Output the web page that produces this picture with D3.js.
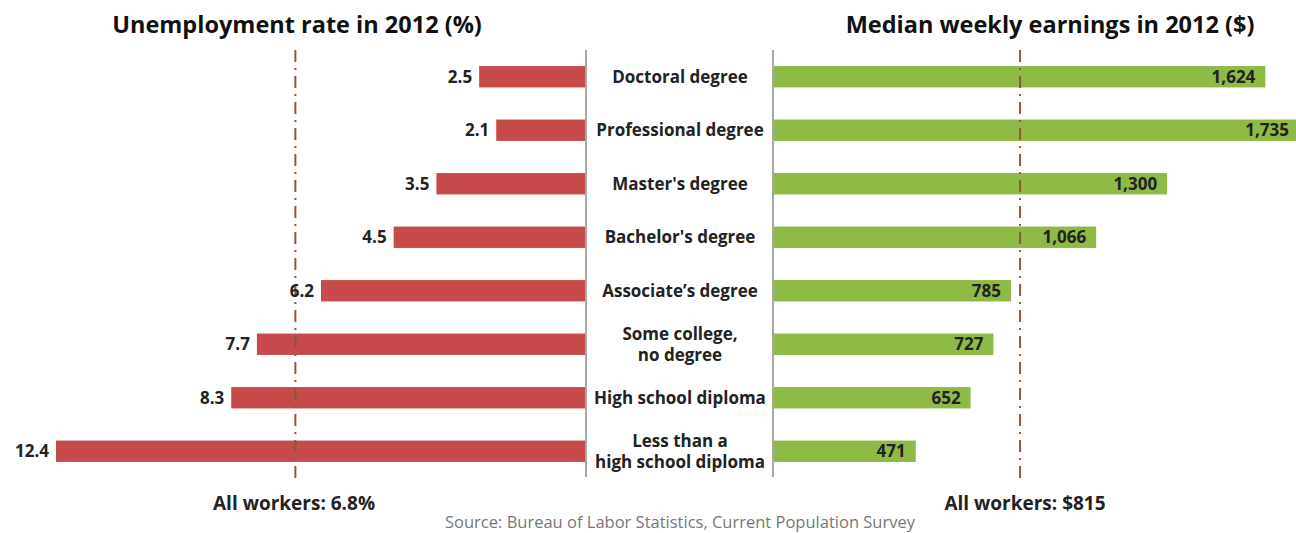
<!DOCTYPE html>
<html>
<head>
<meta charset="utf-8">
<script src="https://cdn.jsdelivr.net/npm/d3@7"></script>
<style>
  body { margin: 0; background: #fff; }
  svg text { font-family: "Open Sans", Lato, sans-serif; }
</style>
</head>
<body>
<div id="chart"></div>
<script>
// data
var categories = [
  ["Doctoral degree"],
  ["Professional degree"],
  ["Master's degree"],
  ["Bachelor's degree"],
  ["Associate\u2019s degree"],
  ["Some college,", "no degree"],
  ["High school diploma"],
  ["Less than a", "high school diploma"]
];
var unemployment = [2.5, 2.1, 3.5, 4.5, 6.2, 7.7, 8.3, 12.4];
var earnings = [1624, 1735, 1300, 1066, 785, 727, 652, 471];
var allUnemp = 6.8;
var allEarn = 815;

var W = 1296, H = 533;
var svg = d3.select('#chart').append('svg').attr('width', W).attr('height', H);

var keys = categories.map(function(c) { return c.join(' '); });
var y = d3.scaleBand().domain(keys).range([50, 478]).paddingInner(0.6).paddingOuter(0.3);
var xL = d3.scaleLinear().domain([0, 12.4]).range([586, 56]);
var xR = d3.scaleLinear().domain([0, 1735]).range([773, 1299]);

var rows = keys.map(function(k, i) {
  return {key: k, lines: categories[i], u: unemployment[i], e: earnings[i]};
});

// left bars
svg.selectAll('rect.red').data(rows).enter().append('rect')
  .attr('class', 'red')
  .attr('x', function(d) { return xL(d.u); })
  .attr('y', function(d) { return y(d.key); })
  .attr('width', function(d) { return xL(0) - xL(d.u); })
  .attr('height', y.bandwidth())
  .attr('fill', '#c84b4b');

// right bars
svg.selectAll('rect.green').data(rows).enter().append('rect')
  .attr('class', 'green')
  .attr('x', xR(0))
  .attr('y', function(d) { return y(d.key); })
  .attr('width', function(d) { return xR(d.e) - xR(0); })
  .attr('height', y.bandwidth())
  .attr('fill', '#8fba46');

// centre axes
[xL(0), xR(0)].forEach(function(x) {
  svg.append('line')
    .attr('x1', x).attr('x2', x).attr('y1', 50).attr('y2', 477)
    .style('stroke', '#a8a8a8').style('stroke-width', 2);
});

// average lines
[xL(allUnemp), xR(allEarn)].forEach(function(x) {
  svg.append('line')
    .attr('x1', x).attr('x2', x).attr('y1', 50).attr('y2', 481)
    .style('stroke', '#8b5a3c').style('stroke-width', 2)
    .style('stroke-dasharray', '12,6,2,6');
});

svg.selectAll('text.uval').data(rows).enter().append('text')
  .attr('x', function(d) { return xL(d.u) - 7; })
  .attr('y', function(d) { return y(d.key) + y.bandwidth() / 2; })
  .attr('dy', '0.35em')
  .attr('text-anchor', 'end')
  .style('font-size', '17px').style('font-weight', 'bold').style('fill', '#222')
  .text(function(d) { return d.u.toFixed(1); });

svg.selectAll('text.eval').data(rows).enter().append('text')
  .attr('x', function(d) { return xR(d.e) - 10; })
  .attr('y', function(d) { return y(d.key) + y.bandwidth() / 2; })
  .attr('dy', '0.35em')
  .attr('text-anchor', 'end')
  .style('font-size', '17px').style('font-weight', 'bold').style('fill', '#222')
  .text(function(d) { return d3.format(',')(d.e); });

// category labels
var lab = svg.selectAll('text.cat').data(rows).enter().append('text')
  .attr('x', 680)
  .attr('y', function(d) { return y(d.key) + y.bandwidth() / 2 - (d.lines.length - 1) * 10.5; })
  .attr('text-anchor', 'middle')
  .style('font-size', '17px').style('font-weight', 'bold').style('fill', '#222');
lab.selectAll('tspan').data(function(d) { return d.lines; }).enter().append('tspan')
  .attr('x', 680)
  .attr('dy', function(d, i) { return i === 0 ? '0.35em' : 21; })
  .text(function(d) { return d; });

// titles
svg.append('text').attr('x', 297).attr('y', 33).attr('text-anchor', 'middle')
  .style('font-size', '23.5px').style('font-weight', 'bold').style('fill', '#111')
  .text('Unemployment rate in 2012 (%)');
svg.append('text').attr('x', 1050).attr('y', 33).attr('text-anchor', 'middle')
  .style('font-size', '23.5px').style('font-weight', 'bold').style('fill', '#111')
  .text('Median weekly earnings in 2012 ($)');

svg.append('text').attr('x', 294).attr('y', 510).attr('text-anchor', 'middle')
  .style('font-size', '19px').style('font-weight', 'bold').style('fill', '#222')
  .text('All workers: ' + allUnemp + '%');
svg.append('text').attr('x', 1025).attr('y', 510).attr('text-anchor', 'middle')
  .style('font-size', '19px').style('font-weight', 'bold').style('fill', '#222')
  .text('All workers: $' + allEarn);

svg.append('text').attr('x', 680).attr('y', 528).attr('text-anchor', 'middle')
  .style('font-size', '16.5px').style('fill', '#777')
  .text('Source: Bureau of Labor Statistics, Current Population Survey');
</script>
</body>
</html>
